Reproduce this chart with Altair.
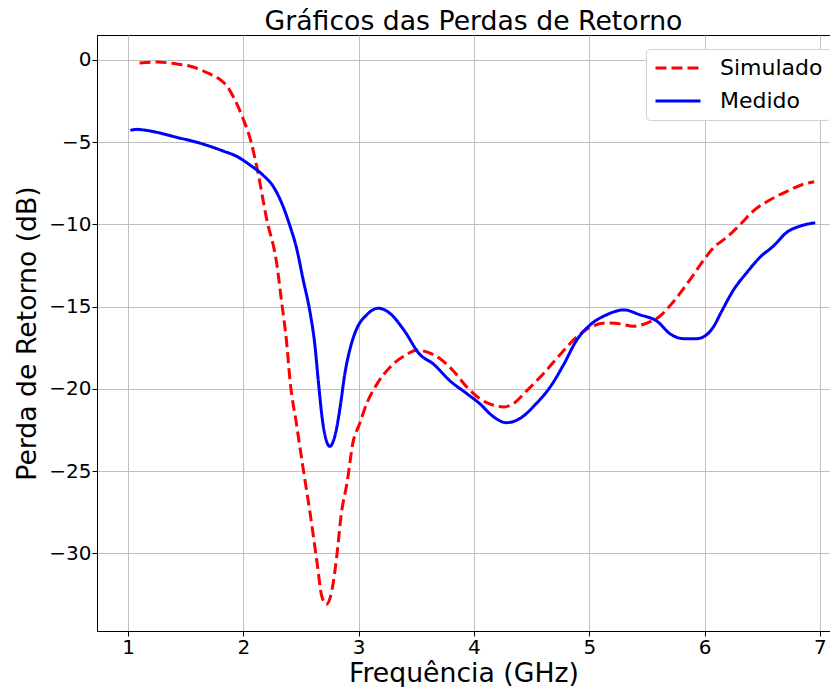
import altair as alt
import pandas as pd

# Simulado (red dashed)
sim_f = [1.10, 1.25, 1.40, 1.54, 1.71, 1.80, 1.86, 1.91, 2.00, 2.06, 2.12, 2.20, 2.29, 2.33,
         2.376, 2.405, 2.46, 2.52, 2.58, 2.64, 2.68, 2.72, 2.77, 2.81, 2.85, 2.90, 2.95, 3.01,
         3.07, 3.16, 3.27, 3.42, 3.50, 3.59, 3.73, 3.82, 3.94, 4.05, 4.17, 4.26, 4.34, 4.46,
         4.60, 4.75, 4.89, 5.01, 5.15, 5.27, 5.38, 5.50, 5.61, 5.73, 5.87, 5.99, 6.08, 6.19,
         6.31, 6.42, 6.57, 6.71, 6.86, 6.95]
sim_db = [-0.18, -0.12, -0.22, -0.38, -0.85, -1.2, -1.6, -2.2, -3.6, -4.8, -6.6, -9.6, -12.4, -14.6,
          -17.2, -19.5, -22.1, -24.9, -27.6, -30.6, -32.6, -33.1, -32.2, -30.2, -27.6, -25.7, -23.3, -22.1,
          -20.9, -19.7, -18.7, -17.9, -17.65, -17.75, -18.3, -18.9, -19.9, -20.6, -21.0, -21.1, -20.9, -20.1,
          -19.1, -17.9, -16.85, -16.25, -16.0, -16.05, -16.2, -16.0, -15.6, -14.7, -13.4, -12.2, -11.4, -10.8,
          -10.0, -9.2, -8.5, -8.0, -7.55, -7.4]

# Medido (blue solid)
med_f = [1.02, 1.08, 1.13, 1.25, 1.42, 1.62, 1.83, 1.94, 2.06, 2.17, 2.26, 2.35, 2.40, 2.46,
         2.52, 2.58, 2.62, 2.65, 2.69, 2.75, 2.80, 2.84, 2.88, 2.93, 2.98, 3.07, 3.17, 3.27,
         3.39, 3.53, 3.65, 3.79, 3.94, 4.05, 4.17, 4.28, 4.40, 4.54, 4.66, 4.78, 4.89, 5.01,
         5.15, 5.30, 5.44, 5.59, 5.70, 5.82, 5.93, 6.00, 6.08, 6.14, 6.25, 6.37, 6.48, 6.60,
         6.71, 6.83, 6.96]
med_db = [-4.28, -4.22, -4.25, -4.4, -4.7, -5.05, -5.55, -5.85, -6.4, -7.0, -7.7, -9.0, -10.0, -11.4,
          -13.4, -15.4, -17.3, -19.5, -22.1, -23.5, -22.7, -21.1, -19.1, -17.45, -16.4, -15.5, -15.1, -15.4,
          -16.4, -17.9, -18.5, -19.5, -20.3, -20.9, -21.7, -22.06, -21.8, -20.9, -19.9, -18.5, -17.05, -16.1,
          -15.5, -15.2, -15.5, -15.9, -16.65, -16.95, -16.95, -16.8, -16.2, -15.4, -14.0, -12.9, -12.0, -11.3,
          -10.5, -10.1, -9.9]

series_names = ["Simulado", "Medido"]
series_colors = ["#ff0000", "#0000ff"]
series_dash = [[11, 5], [1, 0]]
x_ticks = [1, 2, 3, 4, 5, 6, 7]
y_ticks = [0, -5, -10, -15, -20, -25, -30]

df = pd.concat([
    pd.DataFrame({"f": sim_f, "db": sim_db, "serie": "Simulado"}),
    pd.DataFrame({"f": med_f, "db": med_db, "serie": "Medido"}),
], ignore_index=True)

FONT = "DejaVu Sans"

chart = alt.Chart(df).mark_line(strokeWidth=3, interpolate="monotone").encode(
    x=alt.X("f:Q", scale=alt.Scale(domain=[0.731, 7.088], nice=False, zero=False),
            axis=alt.Axis(values=x_ticks, format="d", title="Frequência (GHz)",
                          titleY=50, titleBaseline="alphabetic")),
    y=alt.Y("db:Q", scale=alt.Scale(domain=[-34.73, 1.52], nice=False, zero=False),
            axis=alt.Axis(values=y_ticks, format="d", title="Perda de Retorno (dB)",
                          titleX=-62, titleBaseline="alphabetic")),
    color=alt.Color("serie:N", scale=alt.Scale(domain=series_names, range=series_colors),
                    legend=alt.Legend(title=None, orient="none", legendX=549, legendY=14,
                                      fillColor="white", strokeColor="#d0d0d0", cornerRadius=4,
                                      padding=8, labelFontSize=22, labelFont=FONT, labelColor="black",
                                      symbolType="stroke", symbolSize=2025, symbolStrokeWidth=3,
                                      clipHeight=22, rowPadding=11, labelOffset=18)),
    strokeDash=alt.StrokeDash("serie:N", scale=alt.Scale(domain=series_names, range=series_dash),
                              legend=alt.Legend(title=None)),
    detail="serie:N",
    order="f:Q",
).properties(
    width=733, height=596,
    background="white",
    title=alt.TitleParams("Gráficos das Perdas de Retorno", fontSize=26.7, font=FONT,
                          fontWeight="normal", color="black", offset=-1, dx=10),
    autosize=alt.AutoSizeParams(type="none"),
    padding={"left": 89, "top": 27, "right": 0, "bottom": 56},
).configure_view(
    stroke="black", strokeWidth=1
).configure_axis(
    labelFont=FONT, labelFontSize=20, labelColor="black", labelFontWeight="normal",
    titleFont=FONT, titleFontSize=26.7, titleColor="black", titleFontWeight="normal",
    grid=True, gridColor="#c0c0c0", gridWidth=1,
    domainColor="black", domainWidth=1,
    tickColor="black", tickSize=5, tickWidth=1, labelPadding=1,
)

chart.save("out.html", embed_options={"renderer": "svg", "actions": False})
